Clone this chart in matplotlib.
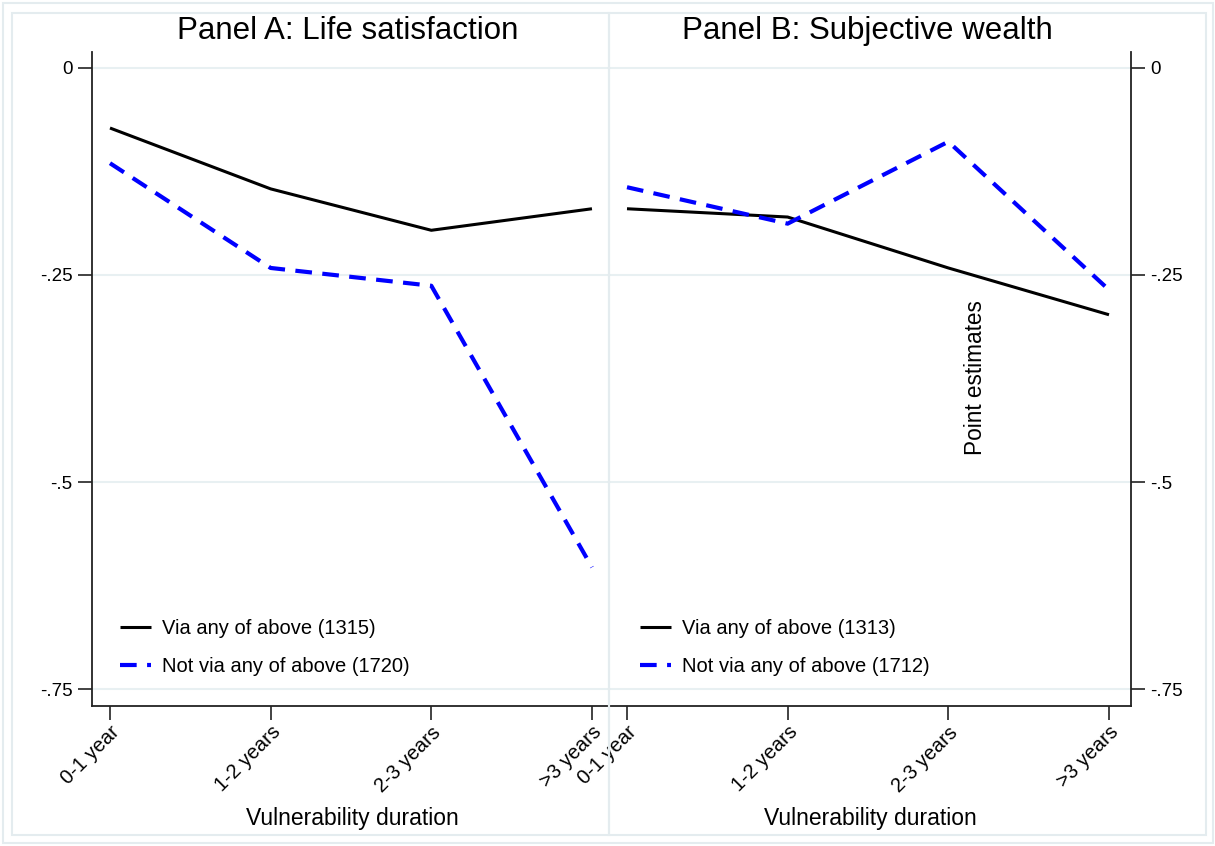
import matplotlib
matplotlib.use("Agg")
import matplotlib.pyplot as plt
from matplotlib.patches import Rectangle

plt.rcParams['font.family'] = ['Liberation Sans', 'DejaVu Sans']

durations = ['0-1 year', '1-2 years', '2-3 years', '>3 years']
xpos = [1, 2, 3, 4]

# Panel A: life satisfaction
life_via = [-0.0725, -0.146, -0.196, -0.170]
life_not = [-0.115, -0.2415, -0.263, -0.603]
# Panel B: subjective wealth
wealth_via = [-0.170, -0.180, -0.2415, -0.298]
wealth_not = [-0.144, -0.188, -0.089, -0.268]

labels_a = ['Via any of above (1315)', 'Not via any of above (1720)']
labels_b = ['Via any of above (1313)', 'Not via any of above (1712)']

yticks = [0, -0.25, -0.5, -0.75]
yticklabels = ['0', '-.25', '-.5', '-.75']

W, H = 1215, 846
fig = plt.figure(figsize=(W / 100, H / 100), dpi=100)

def px(x0, y0, x1, y1):
    # pixel box -> figure fraction [left, bottom, width, height]
    return [x0 / W, 1 - y1 / H, (x1 - x0) / W, (y1 - y0) / H]

frame_col = '#e4ecef'
grid_col = '#e8f0f2'
fig.patches.append(Rectangle((3 / W, 1 - 843 / H), 1210 / W, 840 / H,
                             transform=fig.transFigure, fill=False,
                             edgecolor=frame_col, lw=1.5))
for x0, x1 in [(12, 609), (609, 1206)]:
    fig.patches.append(Rectangle((x0 / W, 1 - 835 / H), (x1 - x0) / W, 822 / H,
                                 transform=fig.transFigure, fill=False,
                                 edgecolor=frame_col, lw=1.5))

ax_a = fig.add_axes(px(92, 52, 609, 706))
ax_b = fig.add_axes(px(609, 52, 1131, 706))

blue = '#0000ff'
for ax, via, notv, labs, xlim in [(ax_a, life_via, life_not, labels_a, (0.888, 4.106)),
                                  (ax_b, wealth_via, wealth_not, labels_b, (0.888, 4.137))]:
    ax.set_facecolor('none')
    ax.plot(xpos, via, color='black', lw=2.2, label=labs[0], solid_capstyle='butt')
    ax.plot(xpos, notv, color=blue, lw=3, dashes=(4, 2.5), label=labs[1])
    ax.set_xlim(*xlim)
    ax.set_ylim(-0.7705, 0.0193)
    ax.set_yticks(yticks)
    ax.set_yticklabels(yticklabels)
    ax.set_xticks(xpos)
    ax.set_xticklabels(durations, rotation=45, ha='right', rotation_mode='anchor')
    for yv in yticks:
        ax.axhline(yv, color=grid_col, lw=1.5, zorder=0)
    ax.tick_params(axis='both', length=10, width=1.2, color='#222222')
    ax.tick_params(axis='y', pad=4, labelsize=13.5)
    ax.tick_params(axis='x', pad=2, labelsize=14.5)
    for s in ax.spines.values():
        s.set_color('#222222')
        s.set_linewidth(1.3)
    ax.spines['top'].set_visible(False)

ax_a.spines['right'].set_visible(False)
ax_b.spines['left'].set_visible(False)
ax_b.yaxis.tick_right()

for ax, lx in [(ax_a, 120), (ax_b, 640)]:
    ax.legend(loc='upper left', bbox_to_anchor=(lx / W, 1 - 619 / H),
              bbox_transform=fig.transFigure, frameon=False, fontsize=14.5,
              handlelength=1.55, handletextpad=0.55, labelspacing=0.95,
              borderpad=0, borderaxespad=0)

fig.text(348 / W, 1 - 31 / H, 'Panel A: Life satisfaction', fontsize=22.5,
         ha='center', va='center')
fig.text(867 / W, 1 - 31 / H, 'Panel B: Subjective wealth', fontsize=22.5,
         ha='center', va='center')
fig.text(352 / W, 1 - 818 / H, 'Vulnerability duration', fontsize=16.5,
         ha='center', va='center')
fig.text(870 / W, 1 - 818 / H, 'Vulnerability duration', fontsize=16.5,
         ha='center', va='center')
fig.text(975 / W, 1 - 378 / H, 'Point estimates', fontsize=16.3,
         ha='center', va='center', rotation=90)

fig.savefig('out.png', dpi=100, facecolor='white')
